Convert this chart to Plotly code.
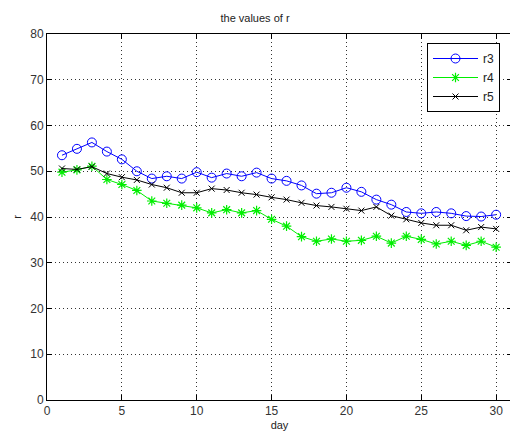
import plotly.graph_objects as go

days = list(range(1, 31))
r3 = [53.5, 54.9, 56.3, 54.3, 52.6, 50.0, 48.4, 48.9, 48.4, 49.8,
      48.6, 49.5, 48.9, 49.7, 48.4, 47.9, 46.9, 45.1, 45.3, 46.4,
      45.5, 43.8, 42.7, 41.1, 40.8, 41.1, 40.8, 40.2, 40.1, 40.5]
r4 = [49.8, 50.3, 51.1, 48.2, 47.1, 45.8, 43.5, 43.0, 42.6, 42.0,
      40.9, 41.6, 40.9, 41.4, 39.5, 38.0, 35.7, 34.7, 35.2, 34.7,
      34.9, 35.8, 34.3, 35.8, 35.1, 34.1, 34.7, 33.8, 34.7, 33.4]
r5 = [50.6, 50.4, 51.0, 49.5, 48.7, 48.1, 47.1, 46.4, 45.3, 45.3,
      46.2, 45.9, 45.3, 44.9, 44.3, 43.8, 43.1, 42.5, 42.2, 41.8,
      41.4, 42.2, 40.3, 39.5, 38.7, 38.2, 38.2, 37.1, 37.8, 37.4]
xticks = [0, 5, 10, 15, 20, 25, 30]
yticks = [0, 10, 20, 30, 40, 50, 60, 70, 80]

FONT = "Liberation Sans, Arial"

fig = go.Figure()
fig.add_trace(go.Scatter(x=days, y=r3, name="r3", mode="lines+markers",
                         line=dict(color="#0000ff", width=1),
                         marker=dict(symbol="circle-open", size=9, color="#0000ff", line=dict(width=1))))
fig.add_trace(go.Scatter(x=days, y=r4, name="r4", mode="lines+markers",
                         line=dict(color="#00ee00", width=1),
                         marker=dict(symbol="asterisk-open", size=8, color="#00ee00", line=dict(width=1.2, color="#00ee00"))))
fig.add_trace(go.Scatter(x=days, y=r5, name="r5", mode="lines+markers",
                         line=dict(color="#000000", width=1),
                         marker=dict(symbol="x-thin-open", size=6, color="#000000", line=dict(width=1, color="#000000"))))

axis_common = dict(showline=True, linecolor="black", linewidth=1, mirror="ticks",
                   ticks="inside", ticklen=5, tickcolor="black",
                   showgrid=True, gridcolor="#333", griddash="1px,3px", gridwidth=1,
                   zeroline=False, tickfont=dict(family=FONT, size=12, color="#333"))

fig.update_xaxes(range=[0, 31.06], tickvals=xticks, ticktext=[str(v) for v in xticks],
                 title=dict(text="day", font=dict(family=FONT, size=11, color="#222"), standoff=3),
                 **axis_common)
fig.update_yaxes(range=[0, 80], tickvals=yticks, ticktext=[str(v) for v in yticks],
                 title=dict(text="r", font=dict(family=FONT, size=11, color="#222"), standoff=6),
                 **axis_common)

fig.update_layout(
    width=512, height=435,
    margin=dict(l=47, r=0, t=34, b=35),
    paper_bgcolor="white", plot_bgcolor="white",
    title=dict(text="the values of r", x=0.5 * 510 / 512, xanchor="center", y=0.958, yanchor="middle",
               font=dict(family=FONT, size=11, color="#222")),
    legend=dict(x=(500 - 47) / 465, y=1.0 - 9/366, xanchor="right", yanchor="top",
                bordercolor="black", borderwidth=1, bgcolor="white",
                font=dict(family=FONT, size=12, color="#222"),
                tracegroupgap=2, itemwidth=45),
    showlegend=True,
)

fig.write_html("out.html", config={"displayModeBar": False},
               post_script="document.body.style.margin='0px';document.body.style.overflow='hidden';")
